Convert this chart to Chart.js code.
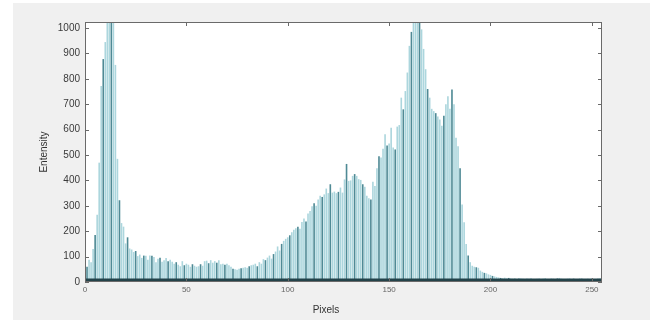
<!DOCTYPE html>
<html><head><meta charset="utf-8">
<script src="https://cdn.jsdelivr.net/npm/chart.js@4.4.1/dist/chart.umd.min.js"></script>
<style>
html,body{margin:0;padding:0;background:#fff;}
#wrap{position:absolute;left:0;top:0;width:650px;height:320px;}
#bg{position:absolute;left:13px;top:3px;right:0;bottom:0;background:#f0f0f0;}
canvas{position:absolute;left:0;top:0;}
</style></head><body>
<div id="wrap"><div id="bg"></div><canvas id="c" width="650" height="320"></canvas></div>
<script>
// Categories: pixel intensity bins 0..255
const bins = Array.from({length:256}, (_, i) => i);
// Counts
const counts = [
  42, 60, 88, 78, 130, 185, 265, 470, 772, 878,
  945, 1100, 1200, 1180, 1090, 855, 485, 322, 232, 218,
  152, 176, 132, 128, 118, 122, 102, 108, 95, 104,
  103, 88, 104, 103, 98, 78, 92, 96, 80, 86,
  95, 82, 88, 80, 72, 78, 68, 62, 82, 66,
  72, 68, 60, 70, 64, 60, 62, 70, 64, 82,
  84, 74, 86, 76, 82, 76, 86, 70, 72, 68,
  72, 66, 60, 52, 50, 48, 52, 54, 56, 58,
  56, 62, 66, 68, 72, 62, 78, 72, 90, 86,
  96, 104, 92, 110, 120, 140, 124, 150, 162, 170,
  176, 184, 196, 206, 212, 218, 210, 236, 250, 238,
  270, 280, 298, 310, 300, 325, 340, 335, 345, 368,
  350, 385, 352, 356, 350, 355, 372, 352, 404, 465,
  398, 400, 418, 425, 418, 405, 402, 385, 375, 340,
  330, 325, 395, 378, 448, 495, 490, 525, 582, 538,
  545, 608, 530, 522, 612, 618, 726, 680, 752, 825,
  930, 985, 1100, 1150, 1200, 1100, 995, 918, 838, 760,
  726, 682, 673, 665, 652, 640, 615, 655, 700, 732,
  682, 758, 700, 568, 535, 448, 305, 235, 150, 104,
  78, 64, 60, 58, 56, 45, 40, 36, 34, 30,
  28, 24, 22, 20, 18, 16, 15, 17, 14, 16,
  14, 13, 15, 12, 16, 14, 13, 12, 14, 13,
  15, 12, 11, 13, 14, 12, 13, 15, 12, 11,
  14, 13, 12, 14, 16, 13, 12, 11, 13, 14,
  12, 13, 11, 12, 14, 13, 12, 11, 13, 12,
  14, 12, 11, 13, 15, 12
];
const xTicks = [0, 50, 100, 150, 200, 250];
const yTicks = [0, 100, 200, 300, 400, 500, 600, 700, 800, 900, 1000];
if (counts.length !== 256) throw new Error('counts length ' + counts.length);

const boxPlugin = {
  id: 'box',
  beforeDraw(chart) {
    const {ctx, chartArea: a} = chart;
    ctx.save();
    ctx.fillStyle = '#ffffff';
    ctx.fillRect(a.left, a.top, a.right - a.left, a.bottom - a.top);
    ctx.restore();
  },
  afterDraw(chart) {
    const {ctx, chartArea: a, scales: {x, y}} = chart;
    ctx.save();
    // dark baseline
    ctx.fillStyle = '#23434a';
    ctx.fillRect(a.left, a.bottom - 3.5, a.right - a.left, 3);
    ctx.strokeStyle = '#6a6a6a';
    ctx.lineWidth = 1;
    ctx.strokeRect(a.left + 0.5, a.top + 0.5, a.right - a.left - 1, a.bottom - a.top - 1);
    ctx.beginPath();
    const L = 4;
    xTicks.forEach(v => {
      const px = Math.round(x.getPixelForValue(v)) + 0.5;
      ctx.moveTo(px, a.bottom); ctx.lineTo(px, a.bottom - L);
      ctx.moveTo(px, a.top); ctx.lineTo(px, a.top + L);
    });
    yTicks.forEach(v => {
      const py = Math.round(y.getPixelForValue(v)) + 0.5;
      ctx.moveTo(a.left, py); ctx.lineTo(a.left + L, py);
      ctx.moveTo(a.right, py); ctx.lineTo(a.right - L, py);
    });
    ctx.stroke();
    // x axis title
    ctx.fillStyle = '#333';
    ctx.font = '10px "Liberation Sans", Arial, sans-serif';
    ctx.textAlign = 'center';
    ctx.textBaseline = 'middle';
    ctx.fillText('Pixels', 326, 310);
    ctx.restore();
  }
};

new Chart(document.getElementById('c'), {
  type: 'bar',
  data: {
    datasets: [{
      data: bins.map((b, i) => ({x: b, y: counts[i]})),
      backgroundColor: c => (c.dataIndex % 4 === 1 ? '#4f8a95' : '#acd6dd'),
      borderWidth: 0,
      barPercentage: 0.8,
      categoryPercentage: 1
    }]
  },
  options: {
    responsive: false,
    animation: false,
    layout: {padding: {left: 0, top: 22, right: 48, bottom: 0}},
    plugins: {legend: {display: false}, tooltip: {enabled: false}},
    scales: {
      x: {
        type: 'linear', min: 0, max: 255, offset: false,
        grid: {display: false, drawTicks: false},
        border: {display: false},
        afterBuildTicks(s) { s.ticks = xTicks.map(v => ({value: v})); },
        ticks: {callback: v => String(v), font: {size: 8, family: '"Liberation Sans", Arial, sans-serif'}, color: '#666', padding: 3, maxRotation: 0, autoSkip: false},
        afterFit(s) { s.height = 38; }
      },
      y: {
        min: 0, max: 1024,
        grid: {display: false, drawTicks: false},
        border: {display: false},
        afterBuildTicks(s) { s.ticks = yTicks.map(v => ({value: v})); },
        ticks: {callback: v => String(v), font: {size: 10, family: '"Liberation Sans", Arial, sans-serif'}, color: '#3a3a3a', padding: 5, autoSkip: false},
        title: {display: true, text: 'Entensity', font: {size: 10, family: '"Liberation Sans", Arial, sans-serif'}, color: '#333', padding: {top: 38, bottom: 0}},
        afterFit(s) { s.width = 85; }
      }
    }
  },
  plugins: [boxPlugin]
});
</script>
</body></html>
